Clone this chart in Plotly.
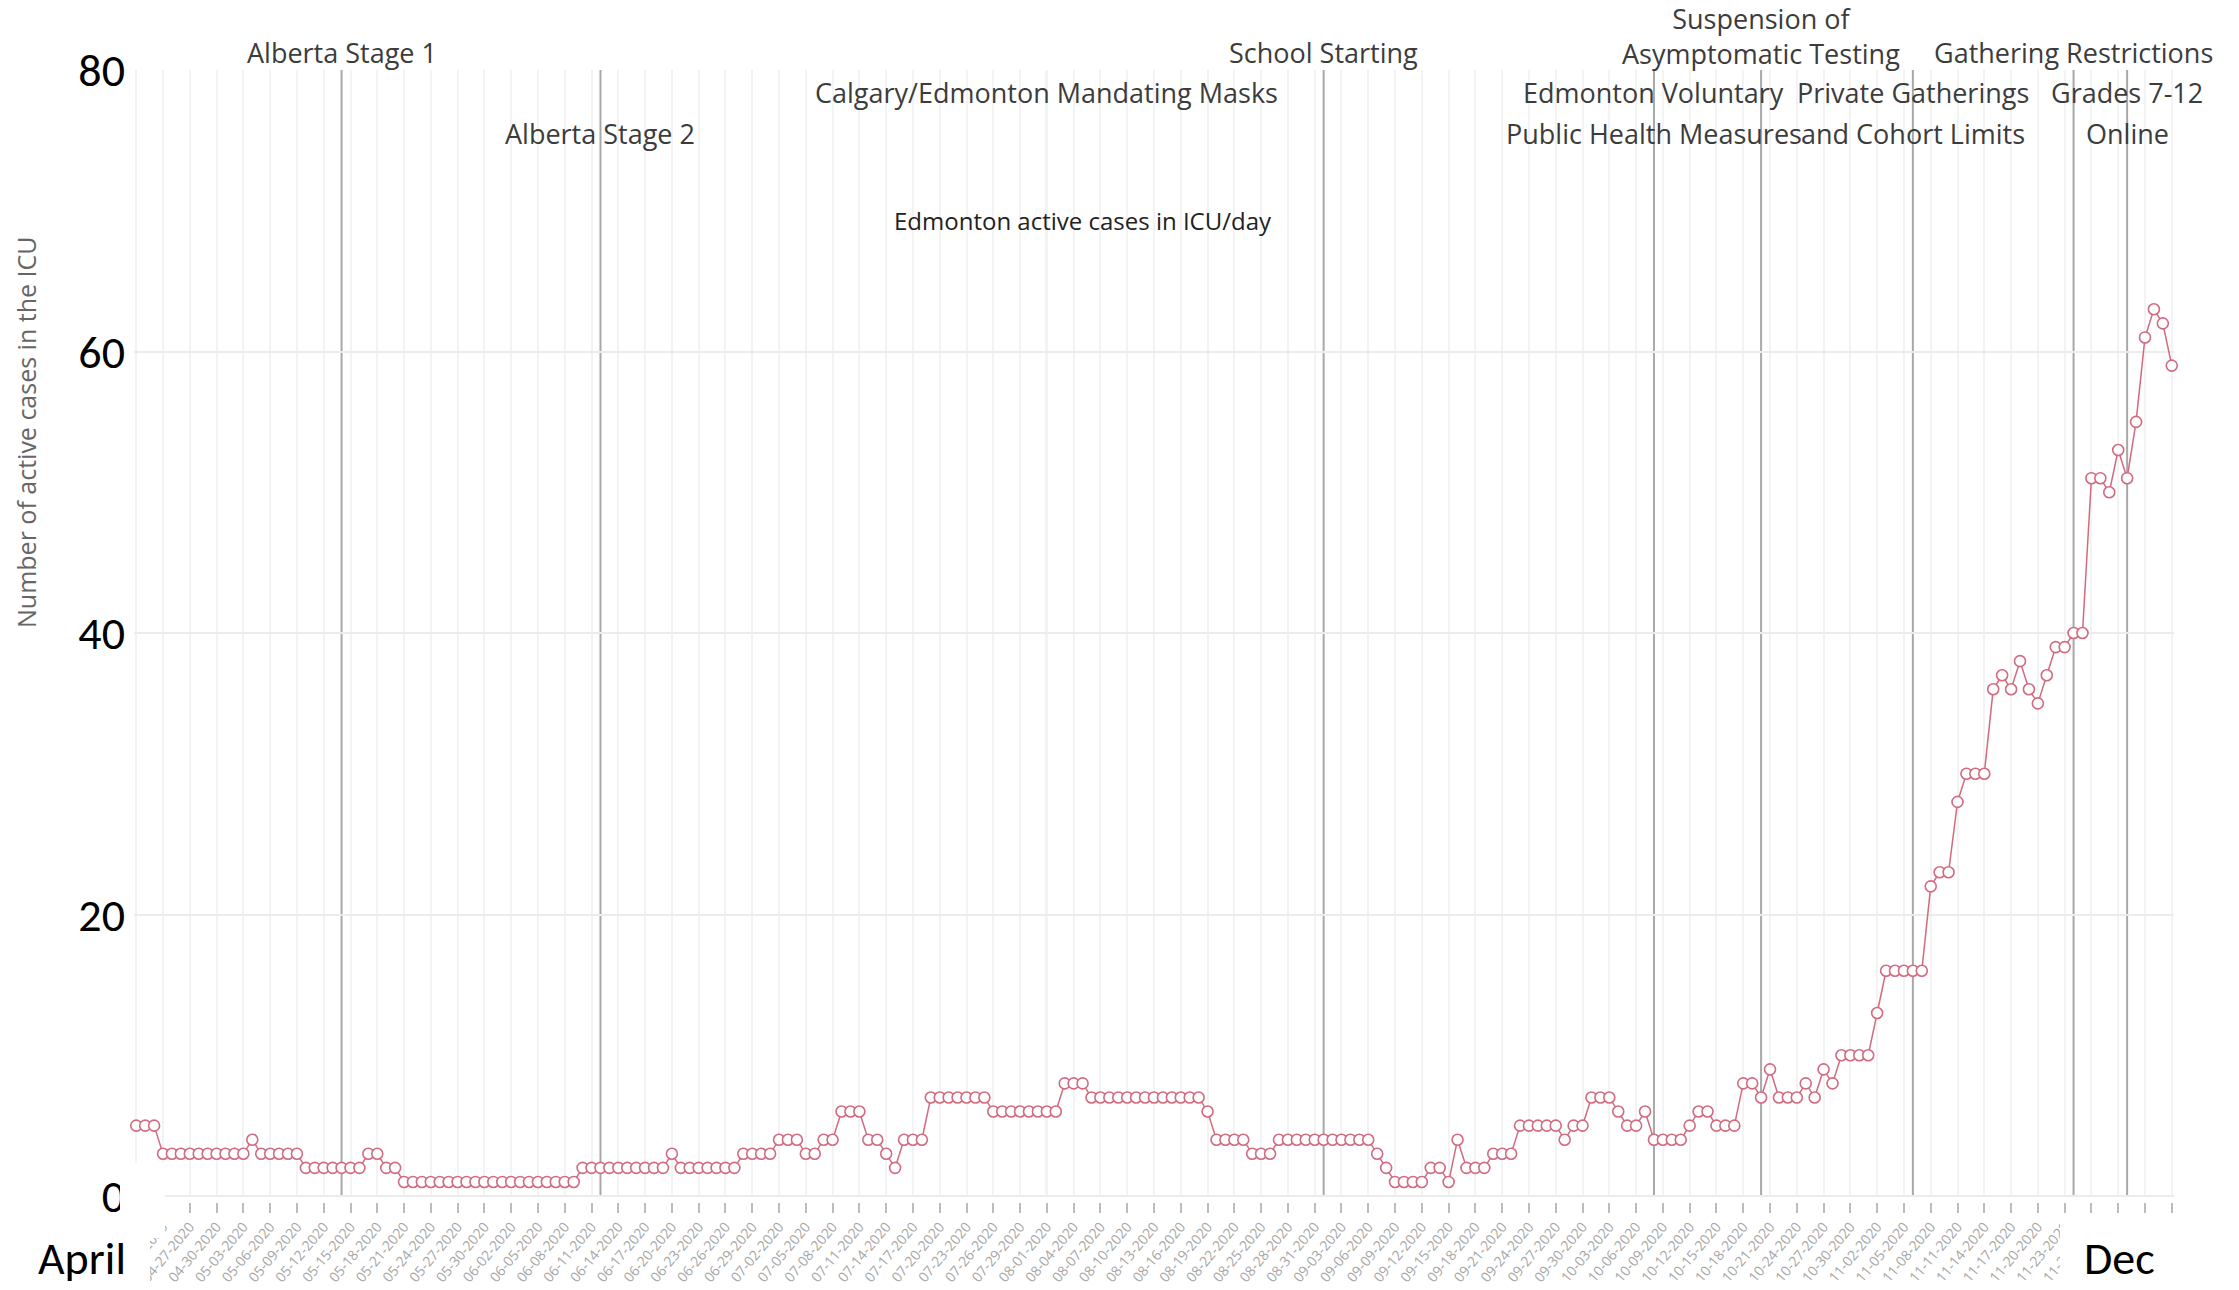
import pandas as pd
import plotly.graph_objects as go

# ---------------- data ----------------
start_date = "2020-04-21"
icu_cases = [
    5, 5, 5, 3, 3, 3, 3, 3, 3, 3, 3, 3, 3, 4, 3, 3, 3, 3, 3, 2,
    2, 2, 2, 2, 2, 2, 3, 3, 2, 2, 1, 1, 1, 1, 1, 1, 1, 1, 1, 1,
    1, 1, 1, 1, 1, 1, 1, 1, 1, 1, 2, 2, 2, 2, 2, 2, 2, 2, 2, 2,
    3, 2, 2, 2, 2, 2, 2, 2, 3, 3, 3, 3, 4, 4, 4, 3, 3, 4, 4, 6,
    6, 6, 4, 4, 3, 2, 4, 4, 4, 7, 7, 7, 7, 7, 7, 7, 6, 6, 6, 6,
    6, 6, 6, 6, 8, 8, 8, 7, 7, 7, 7, 7, 7, 7, 7, 7, 7, 7, 7, 7,
    6, 4, 4, 4, 4, 3, 3, 3, 4, 4, 4, 4, 4, 4, 4, 4, 4, 4, 4, 3,
    2, 1, 1, 1, 1, 2, 2, 1, 4, 2, 2, 2, 3, 3, 3, 5, 5, 5, 5, 5,
    4, 5, 5, 7, 7, 7, 6, 5, 5, 6, 4, 4, 4, 4, 5, 6, 6, 5, 5, 5,
    8, 8, 7, 9, 7, 7, 7, 8, 7, 9, 8, 10, 10, 10, 10, 13, 16, 16, 16, 16,
    16, 22, 23, 23, 28, 30, 30, 30, 36, 37, 36, 38, 36, 35, 37, 39, 39, 40, 40, 51,
    51, 50, 53, 51, 55, 61, 63, 62, 59,
]
dates = pd.date_range(start=start_date, periods=len(icu_cases), freq="D")

event_dates = ["2020-05-14", "2020-06-12", "2020-08-01", "2020-09-01",
               "2020-10-08", "2020-10-20", "2020-11-06", "2020-11-24", "2020-11-30"]
# (text, text-row centre in px from top)
event_labels = [
    [("Alberta Stage 1", 52)],
    [("Alberta Stage 2", 134)],
    [("Calgary/Edmonton Mandating Masks", 92)],
    [("School Starting", 52)],
    [("Edmonton Voluntary", 92), ("Public Health Measures", 134)],
    [("Suspension of<br>Asymptomatic Testing", 36)],
    [("Private Gatherings", 92), ("and Cohort Limits", 134)],
    [("Gathering Restrictions", 52)],
    [("Grades 7-12", 92), ("Online", 134)],
]
y_ticks = [0, 20, 40, 60, 80]
chart_title = "Edmonton active cases in ICU/day"
y_title = "Number of active cases in the ICU"
month_start_label = "April"
month_end_label = "Dec"

# ---------------- layout geometry ----------------
W, H = 2239, 1290
ML, MR, MT, MB = 134, 65, 70, 88
PW = W - ML - MR
PH = H - MT - MB


def px(x):
    return (x - ML) / PW


def py(y):
    return (H - MB - y) / PH


TEXT_FONT = "Open Sans, Arial, sans-serif"
BIG_FONT = "Carlito, Liberation Sans Narrow, Lato, sans-serif"
PINK = "#d26a80"

fig = go.Figure()
fig.add_trace(go.Scatter(
    x=dates, y=icu_cases, mode="lines+markers",
    line=dict(color=PINK, width=1.5),
    marker=dict(symbol="circle", size=11, color="white",
                line=dict(color=PINK, width=1.6)),
    cliponaxis=False, showlegend=False,
))

shapes = []
annotations = []
for d, labels in zip(event_dates, event_labels):
    shapes.append(dict(type="line", xref="x", yref="y", x0=d, x1=d, y0=0, y1=80,
                       line=dict(color="#a8a8a8", width=2), layer="below"))
    for text, row_px in labels:
        annotations.append(dict(
            x=d, xref="x", y=py(row_px), yref="paper", text=text,
            showarrow=False, xanchor="center", yanchor="middle",
            font=dict(family=TEXT_FONT, size=27, color="#3c3c3c")))

# white patches pasted over the axis area
for (x0, x1, y0, y1) in [(120, 165, 1163, 1238), (0, 150, 1238, 1300), (2060, 2177, 1220, 1300)]:
    shapes.append(dict(type="rect", xref="paper", yref="paper",
                       x0=px(x0), x1=px(x1), y0=py(y1), y1=py(y0),
                       fillcolor="white", line=dict(width=0), layer="above"))

annotations.append(dict(x=px(1083), y=py(221), xref="paper", yref="paper",
                        text=chart_title, showarrow=False, xanchor="center", yanchor="middle",
                        font=dict(family=TEXT_FONT, size=24, color="#222222")))
annotations.append(dict(x=px(26), y=py(432), xref="paper", yref="paper",
                        text=y_title, showarrow=False, textangle=-90,
                        xanchor="center", yanchor="middle",
                        font=dict(family=TEXT_FONT, size=25, color="#666666")))
annotations.append(dict(x=px(82), y=py(1258), xref="paper", yref="paper",
                        text=month_start_label, showarrow=False, xanchor="center", yanchor="middle",
                        font=dict(family=BIG_FONT, size=46, color="black")))
annotations.append(dict(x=px(2119), y=py(1258), xref="paper", yref="paper",
                        text=month_end_label, showarrow=False, xanchor="center", yanchor="middle",
                        font=dict(family=BIG_FONT, size=46, color="black")))

x_lo = dates[0] - pd.Timedelta(hours=6)
x_hi = dates[-1] + pd.Timedelta(hours=6)

fig.update_layout(
    width=W, height=H, autosize=False,
    margin=dict(l=ML, r=MR, t=MT, b=MB, pad=0, autoexpand=False),
    paper_bgcolor="white", plot_bgcolor="white",
    shapes=shapes, annotations=annotations,
    xaxis=dict(
        type="date", range=[x_lo, x_hi], automargin=False,
        tick0=start_date, dtick=3 * 86400000, tickformat="%m-%d-%Y",
        tickangle=-50, tickfont=dict(family=TEXT_FONT, size=14, color="#a6a6a6"),
        ticks="outside", ticklen=10, tickwidth=2, tickcolor="#bdbdbd",
        ticklabelstandoff=0,
        showgrid=True, gridcolor="#f3f3f3", gridwidth=2,
        showline=False, zeroline=False,
        anchor="free", position=0,
    ),
    yaxis=dict(
        range=[0, 80], tickvals=y_ticks, domain=[6 / PH, 1], automargin=False,
        tickfont=dict(family=BIG_FONT, size=46, color="black"),
        ticks="", ticklabelstandoff=8,
        showgrid=True, gridcolor="#ececec", gridwidth=1.5,
        zeroline=True, zerolinecolor="#ececec", zerolinewidth=1.5,
        showline=False,
    ),
)

fig.write_html("out.html", config={"displayModeBar": False},
               post_script="document.body.style.margin='0';document.body.style.overflow='hidden';")
